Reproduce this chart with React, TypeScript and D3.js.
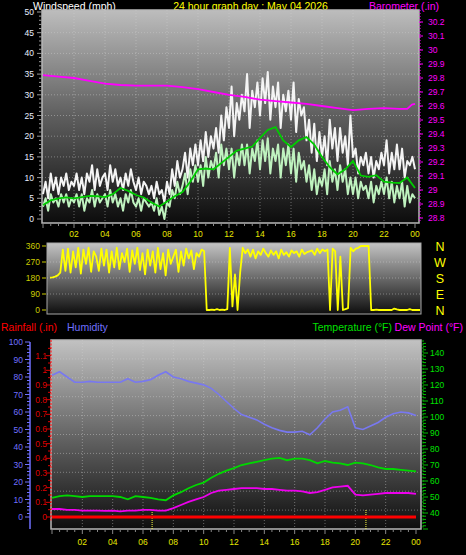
import React from "react";
import * as d3 from "d3";

// ---------- data ----------
const HOUR_LABELS = ["02", "04", "06", "08", "10", "12", "14", "16", "18", "20", "22", "00"];
const HOUR_TICKS = [2, 4, 6, 8, 10, 12, 14, 16, 18, 20, 22, 24];

// 10-minute samples, 00:00 .. 24:00 (145 values)
const WIND_GUST = [
  6, 9, 5, 11, 7, 10,
  6, 10, 8, 11, 7, 9,
  8, 11, 7, 10, 6, 11,
  9, 13, 7, 12, 8, 10,
  11, 7, 13, 9, 12, 8,
  10, 7, 11, 8, 12, 9,
  7, 10, 6, 9, 8, 6,
  8, 5, 9, 6, 7, 4,
  9, 6, 12, 8, 14, 10,
  12, 16, 10, 17, 13, 18,
  13, 19, 14, 21, 15, 20,
  17, 22, 16, 25, 19, 27,
  22, 32, 20, 28, 24, 30,
  26, 35, 22, 31, 27, 33,
  25, 34, 28, 35.5, 24, 32,
  27, 33, 22, 30, 26, 31,
  24, 33, 21, 29, 25, 27,
  19, 24, 16, 23, 14, 21,
  15, 20, 13, 24, 17, 22,
  14, 22, 16, 20, 13, 25,
  15, 17, 11, 15, 13, 16,
  11, 15, 10, 14, 12, 16,
  13, 19, 11, 16, 12, 18,
  12, 17, 10, 14, 13, 15,
  12,
];
const WIND_SPEED = [
  3, 5, 2, 6, 4, 5,
  3, 6, 4, 6, 3, 5,
  4, 6, 3, 6, 2, 5,
  4, 7, 3, 6, 4, 5,
  6, 3, 7, 4, 6, 3,
  5, 2, 6, 4, 7, 4,
  3, 5, 2, 5, 4, 3,
  4, 2, 5, 1, 3, 0,
  4, 3, 7, 5, 9, 6,
  8, 11, 6, 12, 9, 13,
  9, 13, 8, 15, 10, 14,
  12, 16, 10, 18, 13, 17,
  12, 17, 10, 16, 13, 18,
  13, 18, 11, 17, 14, 19,
  12, 19, 14, 19.5, 11, 17,
  14, 18, 10, 17, 13, 18,
  11, 17, 9, 16, 12, 14,
  9, 13, 7, 12, 6, 10,
  8, 12, 6, 14, 9, 12,
  7, 13, 9, 12, 6, 10,
  6, 10, 5, 9, 7, 8,
  5, 9, 4, 8, 6, 9,
  6, 10, 5, 9, 4, 8,
  5, 9, 3, 8, 4, 6,
  5,
];
// 30-minute samples (49 values)
const WIND_AVG = [
  3.4, 4.5, 5, 5.2, 5, 5.3, 5.6, 5.5, 5.3, 6,
  7.5, 6.8, 5.8, 5.2, 4, 3, 4.2, 5.5, 6.5, 9,
  12, 12.2, 12, 13.5, 15, 16.5, 17, 17.5, 19.6, 21.5,
  22.2, 19, 17.4, 19, 19.8, 18, 15, 12.5, 10.8, 12,
  14, 10.5, 10.2, 10.6, 9, 8.8, 8.7, 10, 7.5,
];
const BARO_HOURS = [0, 1, 2, 3, 4, 5, 6, 7, 8, 9, 10, 11, 12, 13, 14, 15, 16, 17, 18, 19, 20, 21, 22, 23, 23.5, 23.8, 24];
const BARO = [29.82, 29.81, 29.8, 29.78, 29.76, 29.75, 29.745, 29.745, 29.745, 29.735, 29.72, 29.7, 29.68, 29.665, 29.645, 29.635, 29.625, 29.615, 29.6, 29.585, 29.57, 29.58, 29.585, 29.58, 29.58, 29.61, 29.615];

// wind direction, 10-minute samples (145 values)
const WIND_DIR = [
  182, 184, 188, 195, 210, 340,
  220, 345, 210, 330, 240, 350,
  205, 340, 260, 350, 215, 330,
  300, 220, 345, 250, 340, 210,
  330, 240, 350, 230, 320, 270,
  345, 215, 335, 260, 350, 225,
  320, 200, 340, 250, 330, 210,
  350, 230, 320, 195, 340, 260,
  300, 340, 215, 330, 250, 345,
  290, 335, 230, 320, 300, 340,
  330, 0, 0, 2, 0, 5,
  0, 2, 0, 5, 350, 20,
  200, 0, 210, 350, 320, 340,
  300, 340, 290, 330, 310, 345,
  320, 300, 335, 310, 330, 290,
  340, 310, 325, 300, 335, 320,
  330, 300, 340, 315, 325, 330,
  335, 310, 345, 320, 340, 330,
  340, 0, 345, 330, 0, 300,
  0, 5, 10, 350, 330, 345,
  350, 360, 360, 360, 360, 0,
  0, 2, 0, 0, 0, 0,
  0, 0, 8, 3, 0, 0,
  0, 0, 5, 0, 0, 0,
  0,
];
const DIR_LABELS = ["N", "W", "S", "E", "N"];
const DIR_TICKS = [360, 270, 180, 90, 0];

// 30-minute samples (49 values)
const HUMIDITY = [
  81, 83, 80, 77, 77, 77.5, 77, 77, 77, 77,
  79, 77, 77.5, 78.5, 81, 83, 80, 79, 77.5, 76.5,
  75.5, 73.5, 70, 66, 62, 58.5, 57, 55.5, 53, 51,
  49.5, 48.5, 48.5, 49, 47, 51, 56, 60, 61, 63,
  51, 50, 52, 54, 57, 59, 60, 59.5, 58,
];
const TEMPERATURE = [
  49.5, 50.5, 51, 50.5, 50, 50.5, 50.5, 50.5, 50.5, 50,
  48.5, 50.5, 50, 49.5, 48.5, 48, 51, 53, 55.5, 57.5,
  59, 62, 64.5, 66.5, 68, 70, 71, 72, 73, 74,
  74.5, 73, 74, 74, 73, 71, 72.5, 71.5, 71, 70,
  71.5, 71, 70, 68.5, 67.5, 67.5, 67, 66.5, 66,
];
const DEW_POINT = [
  42.5, 42.5, 42, 42, 41.5, 41.5, 41.5, 41.3, 41.5, 41,
  41.5, 41.5, 42, 42, 41.5, 41.5, 43, 45, 47, 48.5,
  50, 52.5, 54, 54.5, 55, 55.5, 55.5, 55.5, 55, 55,
  54.5, 54, 54, 53.5, 52.5, 53, 54.5, 56, 56.5, 57,
  51.5, 51, 51.5, 52, 52.5, 52.5, 52.5, 52.5, 52,
];
const RAINFALL = [0, 0];
const SUN_MARKERS = [6.6, 20.7];

const WIND_TICKS = [0, 5, 10, 15, 20, 25, 30, 35, 40, 45, 50];
const BARO_TICKS = [28.8, 28.9, 29, 29.1, 29.2, 29.3, 29.4, 29.5, 29.6, 29.7, 29.8, 29.9, 30, 30.1, 30.2];
const RAIN_TICKS = [0, 0.1, 0.2, 0.3, 0.4, 0.5, 0.6, 0.7, 0.8, 0.9, 1, 1.1];
const HUM_TICKS = [0, 10, 20, 30, 40, 50, 60, 70, 80, 90, 100];
const TEMP_TICKS = [40, 50, 60, 70, 80, 90, 100, 110, 120, 130, 140];

const FONT = "'Liberation Sans', Arial, sans-serif";

function series(vals: number[]): [number, number][] {
  const n = vals.length - 1;
  return vals.map((v, i) => [(i * 24) / n, v]);
}

export default function App() {
  // ---- top panel ----
  const T = { x0: 42, x1: 419, y0: 10, y1: 223 };
  const xTop = d3.scaleLinear().domain([0, 24]).range([43, 415]);
  const yWind = d3.scaleLinear().domain([0, 50]).range([219, 12]);
  const yBaro = d3.scaleLinear().domain([28.8, 30.2]).range([218, 22]);
  const windLine = d3.line<[number, number]>().x((d) => xTop(d[0])).y((d) => yWind(d[1]));
  const baroLine = d3
    .line<[number, number]>()
    .x((d) => xTop(d[0]))
    .y((d) => yBaro(d[1]));

  // ---- middle panel ----
  const M = { x0: 47, x1: 421, y0: 243, y1: 314 };
  const xMid = d3.scaleLinear().domain([0, 24]).range([50, 420]);
  const yDir = d3.scaleLinear().domain([0, 360]).range([310, 246]);
  const dirLine = d3.line<[number, number]>().x((d) => xMid(d[0])).y((d) => yDir(d[1]));

  // ---- bottom panel ----
  const B = { x0: 51, x1: 421, y0: 340, y1: 529 };
  const xBot = d3.scaleLinear().domain([0, 24]).range([52, 416]);
  const yRain = d3.scaleLinear().domain([0, 1.2]).range([517, 341]);
  const yHum = d3.scaleLinear().domain([0, 100]).range([517, 342]);
  const yTemp = d3.scaleLinear().domain([40, 140]).range([513, 353]);
  const humLine = d3.line<[number, number]>().x((d) => xBot(d[0])).y((d) => yHum(d[1]));
  const tempLine = d3.line<[number, number]>().x((d) => xBot(d[0])).y((d) => yTemp(d[1]));
  const rainLine = d3.line<[number, number]>().x((d) => xBot(d[0])).y((d) => yRain(d[1]));

  const halfHours = d3.range(0, 24.01, 0.5);
  const minorWind = d3.range(0, 50.01, 1);
  const minorHum = d3.range(0, 100.01, 2);
  const minorTemp = d3.range(30, 148, 2);
  const minorRain = d3.range(0, 1.2, 0.05);
  const gridBot = d3.range(1, 10).map((i) => B.y0 + ((B.y1 - B.y0) * i) / 10);

  const gridStyle = { stroke: "#d0d0d0", strokeOpacity: 0.45, strokeDasharray: "1,2", strokeWidth: 1 };

  return (
    <svg width={466} height={555} style={{ display: "block", position: "absolute", left: 0, top: 0, background: "#000" }} fontFamily={FONT}>
      <defs>
        <linearGradient id="gTop" x1="0" y1="0" x2="0" y2="1">
          <stop offset="0" stopColor="#bdbdbd" />
          <stop offset="0.5" stopColor="#5e5e5e" />
          <stop offset="1" stopColor="#0c0c0c" />
        </linearGradient>
        <linearGradient id="gMid" x1="0" y1="0" x2="0" y2="1">
          <stop offset="0" stopColor="#c4c4c4" />
          <stop offset="1" stopColor="#0e0e0e" />
        </linearGradient>
        <linearGradient id="gBot" x1="0" y1="0" x2="0" y2="1">
          <stop offset="0" stopColor="#c2c2c2" />
          <stop offset="0.5" stopColor="#666666" />
          <stop offset="1" stopColor="#0e0e0e" />
        </linearGradient>
      </defs>
      <rect x={0} y={0} width={466} height={555} fill="#000" />

      {/* ===== titles top ===== */}
      <text x={33} y={10} fill="#ffffff" fontSize={10.5}>Windspeed (mph)</text>
      <text x={250.5} y={10} fill="#ffff00" fontSize={10.5} textAnchor="middle">24 hour graph day : May 04 2026</text>
      <text x={439} y={10} fill="#ff00ff" fontSize={10.5} textAnchor="end">Barometer (.in)</text>

      {/* ===== top panel ===== */}
      <rect x={T.x0} y={T.y0} width={T.x1 - T.x0} height={T.y1 - T.y0} fill="url(#gTop)" stroke="#b8b8b8" strokeWidth={1.5} />
      {WIND_TICKS.slice(1, -1).map((t) => (
        <line key={"tg" + t} x1={T.x0} x2={T.x1} y1={yWind(t)} y2={yWind(t)} {...gridStyle} />
      ))}
      {HOUR_TICKS.slice(0, -1).map((h) => (
        <line key={"tv" + h} x1={xTop(h)} x2={xTop(h)} y1={T.y0} y2={T.y1} {...gridStyle} />
      ))}
      {/* left ticks */}
      {minorWind.map((t) => (
        <line key={"tw" + t} x1={t % 5 === 0 ? 37 : 39} x2={42} y1={yWind(t)} y2={yWind(t)} stroke="#9a9a9a" strokeWidth={1} />
      ))}
      {WIND_TICKS.map((t) => (
        <text key={"twl" + t} x={34} y={yWind(t) + 3} fill="#e8eeff" fontSize={8.5} textAnchor="end">{t}</text>
      ))}
      {/* right baro ticks */}
      <line x1={420} x2={420} y1={T.y0} y2={T.y1} stroke="#ff00ff" strokeDasharray="1,2" />
      {BARO_TICKS.map((t) => (
        <g key={"bt" + t}>
          <line x1={419} x2={423} y1={yBaro(t)} y2={yBaro(t)} stroke="#ff00ff" />
          <text x={428} y={yBaro(t) + 3} fill="#ff00ff" fontSize={8.5}>{t === 29 || t === 30 ? String(t) : t.toFixed(1)}</text>
        </g>
      ))}
      {/* bottom x ticks */}
      {halfHours.map((h) => (
        <line key={"tx" + h} x1={xTop(h)} x2={xTop(h)} y1={T.y1 + 1} y2={T.y1 + (h % 2 === 0 ? 5 : 3)} stroke="#888" />
      ))}
      {HOUR_TICKS.map((h, i) => (
        <text key={"txl" + h} x={xTop(h)} y={237} fill="#e6e600" fontSize={8.5} textAnchor="middle">{HOUR_LABELS[i]}</text>
      ))}
      {/* series */}
      <path d={windLine(series(WIND_GUST)) || ""} fill="none" stroke="#f4f4f4" strokeWidth={2} strokeLinejoin="round" />
      <path d={windLine(series(WIND_SPEED)) || ""} fill="none" stroke="#bff2bf" strokeWidth={2} strokeLinejoin="round" />
      <path d={windLine(series(WIND_AVG)) || ""} fill="none" stroke="#00cc00" strokeWidth={1.8} />
      <path d={baroLine(BARO_HOURS.map((h, i) => [h, BARO[i]] as [number, number])) || ""} fill="none" stroke="#ff00ff" strokeWidth={1.8} />

      {/* ===== middle panel ===== */}
      <rect x={M.x0} y={M.y0} width={M.x1 - M.x0} height={M.y1 - M.y0} fill="url(#gMid)" stroke="#a8a8a8" strokeWidth={1} />
      {[90, 180, 270].map((t) => (
        <line key={"mg" + t} x1={M.x0} x2={M.x1} y1={yDir(t)} y2={yDir(t)} {...gridStyle} />
      ))}
      {DIR_TICKS.map((t) => (
        <g key={"dt" + t}>
          <line x1={42} x2={46} y1={yDir(t)} y2={yDir(t)} stroke="#cccc00" />
          <text x={40} y={yDir(t) + 3} fill="#cccc00" fontSize={8.5} textAnchor="end">{t}</text>
        </g>
      ))}
      <path d={dirLine(series(WIND_DIR)) || ""} fill="none" stroke="#ffff00" strokeWidth={1.8} strokeLinejoin="round" />
      {DIR_LABELS.map((l, i) => (
        <text key={"dl" + i} x={440} y={yDir(DIR_TICKS[i]) + 5} fill="#ffff00" fontSize={12.5} textAnchor="middle">{l}</text>
      ))}

      {/* ===== bottom panel titles ===== */}
      <text x={1} y={331} fill="#ff0000" fontSize={10.5}>Rainfall (.in)</text>
      <text x={67} y={331} fill="#7070ff" fontSize={10.5}>Humidity</text>
      <text x={392} y={331} fill="#00e000" fontSize={10.5} textAnchor="end">Temperature (°F)</text>
      <text x={463} y={331} fill="#ff00ff" fontSize={10.5} textAnchor="end">Dew Point (°F)</text>

      {/* ===== bottom panel ===== */}
      <rect x={B.x0} y={B.y0} width={B.x1 - B.x0} height={B.y1 - B.y0} fill="url(#gBot)" stroke="#b8b8b8" strokeWidth={1.5} />
      {gridBot.map((y, i) => (
        <line key={"bg" + i} x1={B.x0} x2={B.x1} y1={y} y2={y} {...gridStyle} />
      ))}
      {HOUR_TICKS.slice(0, -1).map((h) => (
        <line key={"bv" + h} x1={xBot(h)} x2={xBot(h)} y1={B.y0} y2={B.y1} {...gridStyle} />
      ))}
      {/* humidity axis */}
      <line x1={30} x2={30} y1={342} y2={529} stroke="#7070ff" strokeWidth={1.5} />
      {minorHum.map((t) => (
        <line key={"hm" + t} x1={t % 10 === 0 ? 25 : 27} x2={30} y1={yHum(t)} y2={yHum(t)} stroke="#7070ff" />
      ))}
      {HUM_TICKS.map((t) => (
        <text key={"hl" + t} x={23} y={yHum(t) + 3} fill="#7070ff" fontSize={8.5} textAnchor="end">{t}</text>
      ))}
      {/* rain axis */}
      <line x1={51} x2={51} y1={340} y2={521} stroke="#ff2020" strokeDasharray="2,1.5" strokeWidth={1.2} />
      {minorRain.map((t, i) => (
        <line key={"rm" + i} x1={i % 2 === 0 ? 46 : 48} x2={51} y1={yRain(t)} y2={yRain(t)} stroke="#dd0000" />
      ))}
      {RAIN_TICKS.map((t) => (
        <text key={"rl" + t} x={47} y={yRain(t) + 3} fill="#dd0000" fontSize={8.5} textAnchor="end">{t}</text>
      ))}
      {/* temperature axis */}
      <line x1={423} x2={423} y1={340} y2={529} stroke="#00c000" strokeDasharray="2,1.5" />
      {minorTemp.map((t) => (
        <line key={"tm" + t} x1={423} x2={t % 10 === 0 ? 428 : 426} y1={yTemp(t)} y2={yTemp(t)} stroke="#00c000" />
      ))}
      {TEMP_TICKS.map((t) => (
        <text key={"tl" + t} x={430} y={yTemp(t) + 3} fill="#00e000" fontSize={8.5}>{t}</text>
      ))}
      {/* x axis */}
      {halfHours.map((h) => (
        <line key={"bx" + h} x1={xBot(h)} x2={xBot(h)} y1={B.y1 + 1} y2={B.y1 + (h % 2 === 0 ? 5 : 3)} stroke="#888" />
      ))}
      {HOUR_TICKS.map((h, i) => (
        <text key={"bxl" + h} x={xBot(h)} y={545} fill="#e6e600" fontSize={8.5} textAnchor="middle">{HOUR_LABELS[i]}</text>
      ))}
      {/* sun markers */}
      {SUN_MARKERS.map((h) => (
        <line key={"sm" + h} x1={xBot(h)} x2={xBot(h)} y1={510} y2={529} stroke="#ffff40" strokeDasharray="1,1" />
      ))}
      {/* series */}
      <path d={humLine(series(HUMIDITY)) || ""} fill="none" stroke="#7878f0" strokeWidth={1.6} />
      <path d={tempLine(series(TEMPERATURE)) || ""} fill="none" stroke="#00d800" strokeWidth={1.8} />
      <path d={tempLine(series(DEW_POINT)) || ""} fill="none" stroke="#ee00ee" strokeWidth={1.8} />
      <path d={rainLine(series(RAINFALL)) || ""} fill="none" stroke="#ff0000" strokeWidth={3} />
    </svg>
  );
}
